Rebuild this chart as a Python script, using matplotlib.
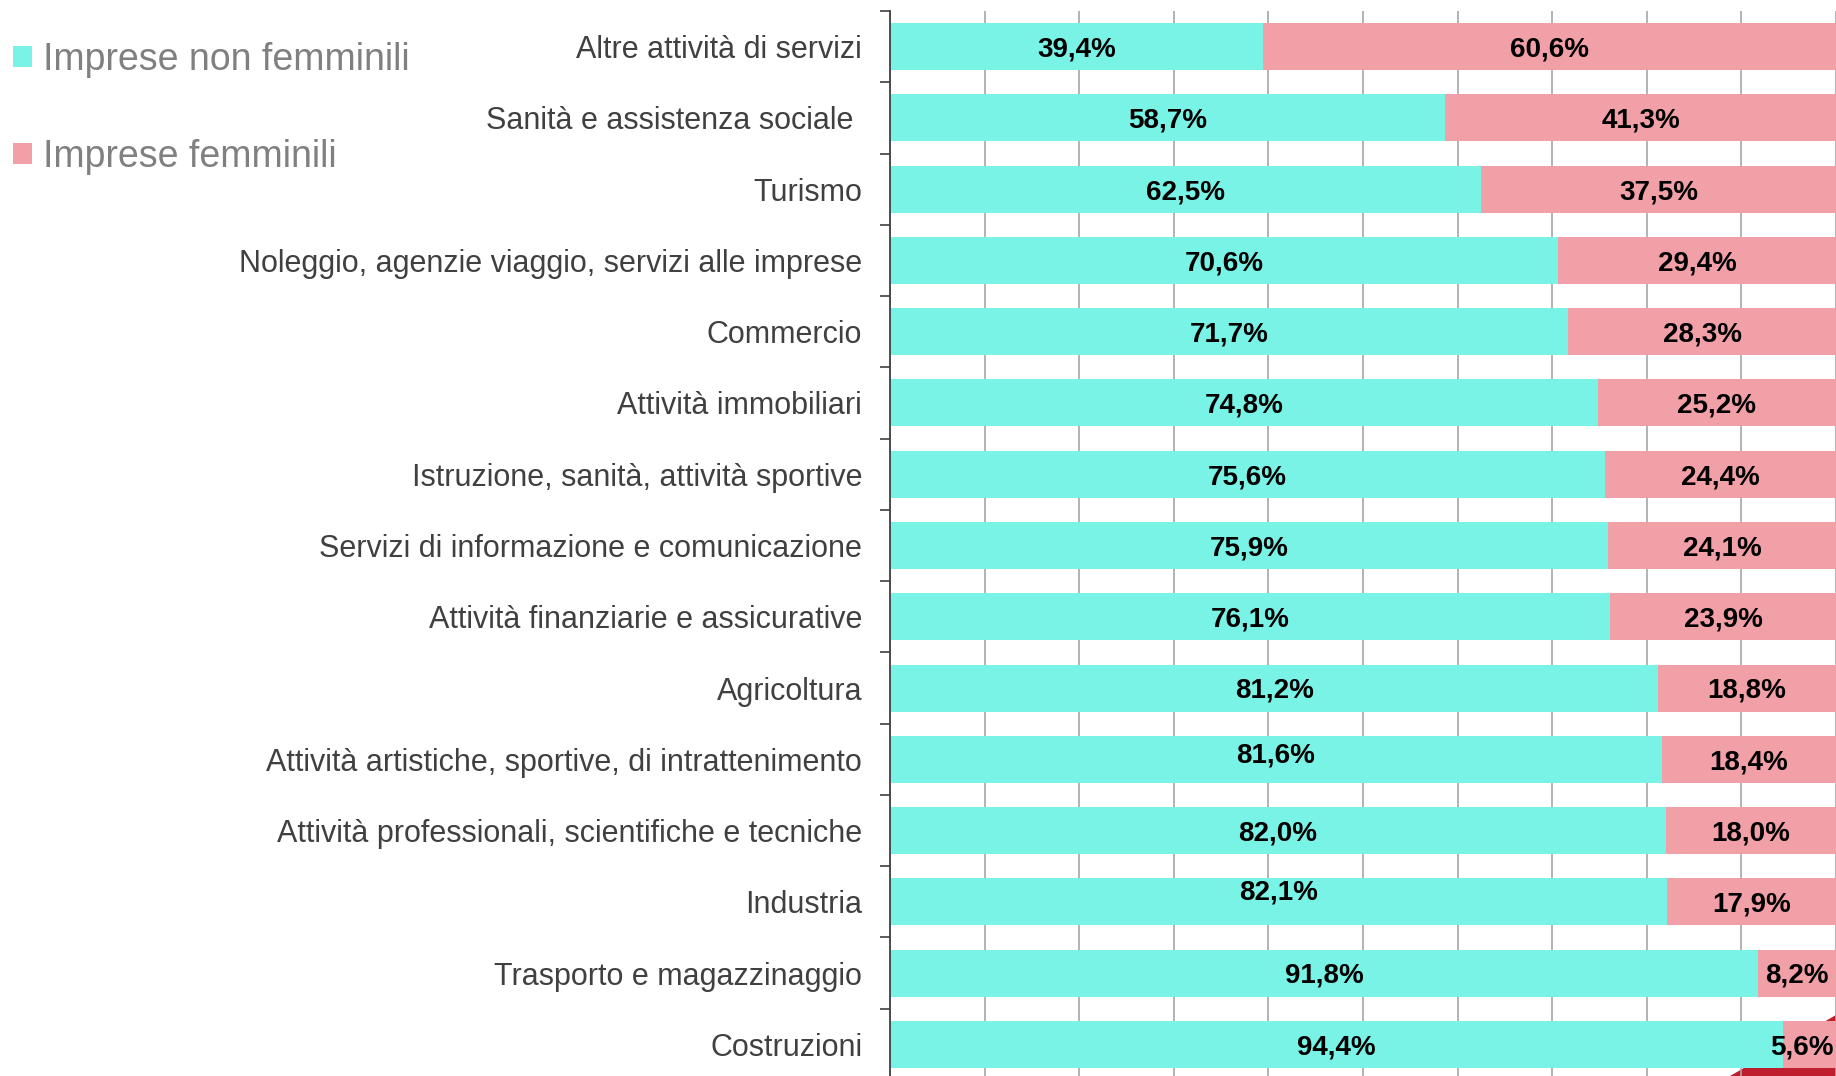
"""
Stacked horizontal bars: imprese femminili vs non femminili by sector.
"""

import matplotlib
matplotlib.use('Agg')
import matplotlib.pyplot as plt
from matplotlib.patches import Polygon, Patch
import numpy as np

# Data, top to bottom as shown in the chart
sectors = [
    'Altre attività di servizi',
    'Sanità e assistenza sociale ',
    'Turismo',
    'Noleggio, agenzie viaggio, servizi alle imprese',
    'Commercio',
    'Attività immobiliari',
    'Istruzione, sanità, attività sportive',
    'Servizi di informazione e comunicazione',
    'Attività finanziarie e assicurative',
    'Agricoltura',
    'Attività artistiche, sportive, di intrattenimento',
    'Attività professionali, scientifiche e tecniche',
    'Industria',
    'Trasporto e magazzinaggio',
    'Costruzioni',
]
non_femminili = [39.4, 58.7, 62.5, 70.6, 71.7, 74.8, 75.6, 75.9, 76.1, 81.2, 81.6, 82.0, 82.1, 91.8, 94.4]
femminili = [60.6, 41.3, 37.5, 29.4, 28.3, 25.2, 24.4, 24.1, 23.9, 18.8, 18.4, 18.0, 17.9, 8.2, 5.6]

cyan = '#7AF3E7'
pink = '#F2A0A7'

W, H = 1836, 1076
fig = plt.figure(figsize=(W / 100, H / 100), dpi=100)

# Axes placed in pixel terms: left edge at x=890, top at y=11, rows ~71.2px
ax = fig.add_axes([890 / W, 1 - 1080 / H, 1 - 890 / W, 1069 / H])
ax.patch.set_alpha(0)

# Decorative dark red corner shape peeking in at the bottom right
fig.patches.append(Polygon([(1730 / W, 0), (1.0, 1 - 1015 / H), (1.0, 0)],
                           closed=True, transform=fig.transFigure,
                           facecolor='#BE1E2D', edgecolor='none', zorder=-1))

y = np.arange(len(sectors))
nf = np.array(non_femminili) / 100
f = np.array(femminili) / 100

ax.barh(y, nf, height=0.66, color=cyan, zorder=2)
ax.barh(y, f, left=nf, height=0.66, color=pink, zorder=2)

# Value labels, Excel had two of them nudged upward
nudge = {10: -0.09, 12: -0.17}
for i in range(len(sectors)):
    ax.text(nf[i] / 2, y[i] + 0.04 + nudge.get(i, 0), f'{non_femminili[i]:.1f}%'.replace('.', ','),
            ha='center', va='center', fontsize=20, fontweight='bold', family='Liberation Sans')
    if f[i] < 0.07:
        # too thin to centre, keep it inside the right edge
        xpos, ha = 0.998, 'right'
    else:
        xpos, ha = nf[i] + f[i] / 2, 'center'
    ax.text(xpos, y[i] + 0.04, f'{femminili[i]:.1f}%'.replace('.', ','),
            ha=ha, va='center', fontsize=20, fontweight='bold', family='Liberation Sans')

ax.set_xlim(0, 1)
ax.set_ylim(len(sectors) - 0.5, -0.5)
ax.set_xticks(np.arange(0, 1.01, 0.1))
ax.tick_params(axis='x', length=0, labelbottom=False)
ax.grid(axis='x', color='#A6A6A6', linewidth=1.2, zorder=0)

ax.set_yticks(y)
ax.set_yticklabels(sectors, fontsize=22, color='#404040', family='Liberation Sans')
ax.set_yticks(np.arange(-0.5, len(sectors), 1), minor=True)
ax.tick_params(axis='y', which='major', length=0, pad=20)
ax.tick_params(axis='y', which='minor', length=7, width=1.2, color='#404040')

for s in ['top', 'right', 'bottom']:
    ax.spines[s].set_visible(False)
ax.spines['left'].set_color('#404040')
ax.spines['left'].set_linewidth(1.3)

# Legend at top-left of the figure
handles = [Patch(facecolor=cyan), Patch(facecolor=pink)]
fig.legend(handles, ['Imprese non femminili', 'Imprese femminili'],
           loc='upper left', bbox_to_anchor=(13 / W, 1 - 42 / H), frameon=False,
           labelcolor='#808080', handlelength=0.5, handleheight=0.5,
           handletextpad=0.3, labelspacing=1.62, borderpad=0, borderaxespad=0,
           prop={'family': 'Liberation Sans', 'size': 27})

fig.savefig('out.png', dpi=100)
